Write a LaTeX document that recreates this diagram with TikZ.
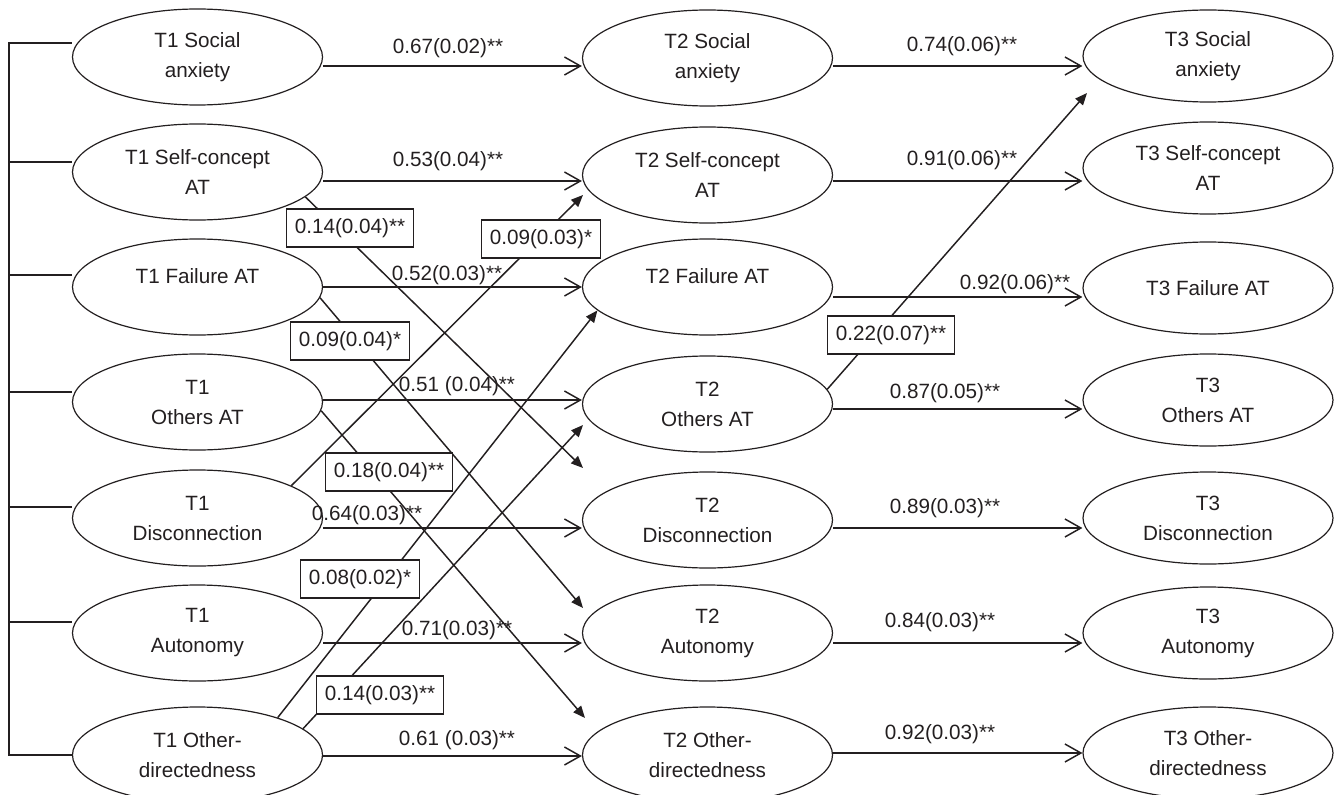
\documentclass[tikz,border=0pt]{standalone}
\usepackage{fontspec}
\setmainfont{Liberation Sans}
\usetikzlibrary{arrows.meta,calc,shapes.geometric}
\definecolor{ink}{RGB}{35,31,32}
\begin{document}
\begin{tikzpicture}[x=0.75pt,y=-0.75pt,
  lat/.style={ellipse,draw=ink,line width=0.9pt,minimum width=187.5pt,minimum height=72pt,inner sep=0pt,align=center,font=\fontsize{15.5}{22.5}\selectfont,text=ink},
  lat3/.style={lat,minimum height=69pt},
  harr/.style={draw=ink,line width=1.1pt,-{Straight Barb[length=12pt,width=13.5pt]}},
  darr/.style={draw=ink,line width=1.1pt,-{Triangle[length=9pt,width=7.5pt]}},
  coef/.style={font=\fontsize{15.5}{18}\selectfont,text=ink,inner sep=0pt},
  cbox/.style={coef,draw=ink,line width=0.8pt,fill=white,inner xsep=6pt,minimum height=28.5pt},
  brk/.style={draw=ink,line width=1.1pt}
]
\useasboundingbox (0,0) rectangle (1337,795);

% T1 column
\node[lat] (t1a) at (197.5,57)  {T1 Social\\anxiety};
\node[lat] (t1b) at (197.5,172) {T1 Self-concept\\AT};
\node[lat] (t1c) at (197.5,287) {T1 Failure AT\\[-6.5pt]\mbox{}};
\node[lat] (t1d) at (197.5,402) {T1\\Others AT};
\node[lat] (t1e) at (197.5,518) {T1\\Disconnection};
\node[lat] (t1f) at (197.5,633) {T1\\Autonomy};
\node[lat] (t1g) at (197.5,755) {T1 Other-\\directedness};

% T2 column
\node[lat] (t2a) at (707.5,58)  {T2 Social\\anxiety};
\node[lat] (t2b) at (707.5,175) {T2 Self-concept\\AT};
\node[lat] (t2c) at (707.5,287) {T2 Failure AT\\[-6.5pt]\mbox{}};
\node[lat] (t2d) at (707.5,404) {T2\\Others AT};
\node[lat] (t2e) at (707.5,520) {T2\\Disconnection};
\node[lat] (t2f) at (707.5,633) {T2\\Autonomy};
\node[lat] (t2g) at (707.5,755) {T2 Other-\\directedness};

% T3 column
\node[lat3] (t3a) at (1208,56)  {T3 Social\\anxiety};
\node[lat3] (t3b) at (1208,168) {T3 Self-concept\\AT};
\node[lat3] (t3c) at (1208,288) {T3 Failure AT};
\node[lat3] (t3d) at (1208,400) {T3\\Others AT};
\node[lat3] (t3e) at (1208,518) {T3\\Disconnection};
\node[lat3] (t3f) at (1208,633) {T3\\Autonomy};
\node[lat3] (t3g) at (1208,753) {T3 Other-\\directedness};

% left bracket
\draw[brk] (9,43) -- (9,755);
\draw[brk] ($(t1a.west)+(0,-14)$) -- +(-64,0);
\draw[brk] ($(t1b.west)+(0,-10)$) -- +(-64,0);
\draw[brk] ($(t1c.west)+(0,-12)$) -- +(-64,0);
\draw[brk] ($(t1d.west)+(0,-10)$) -- +(-64,0);
\draw[brk] ($(t1e.west)+(0,-11)$) -- +(-64,0);
\draw[brk] ($(t1f.west)+(0,-11)$) -- +(-64,0);
\draw[brk] ($(t1g.west)+(0,0)$) -- +(-64,0);

% T1 -> T2 stability paths
\draw[harr] ($(t1a.east)+(0,9)$) coordinate (h1) -- (t2a.west |- h1);
\draw[harr] ($(t1b.east)+(0,9)$) coordinate (h2) -- (t2b.west |- h2);
\draw[harr] ($(t1c.east)+(0,0)$) coordinate (h3) -- (t2c.west |- h3);
\draw[harr] ($(t1d.east)+(0,-2)$) coordinate (h4) -- (t2d.west |- h4);
\draw[harr] ($(t1e.east)+(0,10)$) coordinate (h5) -- (t2e.west |- h5);
\draw[harr] ($(t1f.east)+(0,10)$) coordinate (h6) -- (t2f.west |- h6);
\draw[harr] ($(t1g.east)+(0,1)$) coordinate (h7) -- (t2g.west |- h7);

% T2 -> T3 stability paths
\draw[harr] ($(t2a.east)+(0,8)$) coordinate (k1) -- (t3a.west |- k1);
\draw[harr] ($(t2b.east)+(0,6)$) coordinate (k2) -- (t3b.west |- k2);
\draw[harr] ($(t2c.east)+(0,10)$) coordinate (k3) -- (t3c.west |- k3);
\draw[harr] ($(t2d.east)+(0,5)$) coordinate (k4) -- (t3d.west |- k4);
\draw[harr] ($(t2e.east)+(0,8)$) coordinate (k5) -- (t3e.west |- k5);
\draw[harr] ($(t2f.east)+(0,10)$) coordinate (k6) -- (t3f.west |- k6);
\draw[harr] ($(t2g.east)+(0,-2)$) coordinate (k7) -- (t3g.west |- k7);

% cross-lagged paths
\coordinate (e1) at (583,468);
\coordinate (e2) at (583,608);
\coordinate (e3) at (585,718);
\coordinate (e4) at (583,195);
\coordinate (e6) at (583,425);
\coordinate (e7) at (1087,93);
\draw[darr] (t1b.-13) -- (e1);
\draw[darr] (t1c.-5) -- (e2);
\draw[darr] (t1d.-4) -- (e3);
\draw[darr] (t1e.19) -- (e4);
\draw[darr] (t1g.25) -- (t2c.192);
\draw[darr] (t1g.14) -- (e6);
\draw[darr] (t2d.7) -- (e7);

% boxed coefficients
\node[cbox] (b1) at (350,228) {0.14(0.04)**};
\node[cbox] (b2) at (350,341) {0.09(0.04)*};
\node[cbox] (b3) at (389,472) {0.18(0.04)**};
\node[cbox] (b4) at (541,239) {0.09(0.03)*};
\node[cbox] (b5) at (360,579) {0.08(0.02)*};
\node[cbox] (b6) at (380,695) {0.14(0.03)**};
\node[cbox] (b7) at (891,335) {0.22(0.07)**};

% plain coefficients
\node[coef] (l1) at (448,48)  {0.67(0.02)**};
\node[coef] (l2) at (448,161) {0.53(0.04)**};
\node[coef] (l3) at (447,275) {0.52(0.03)**};
\node[coef] (l4) at (457,386) {0.51 (0.04)**};
\node[coef] (l5) at (367,515) {0.64(0.03)**};
\node[coef] (l6) at (457,630) {0.71(0.03)**};
\node[coef] (l7) at (457,740) {0.61 (0.03)**};
\node[coef] (m1) at (962,46)  {0.74(0.06)**};
\node[coef] (m2) at (962,160) {0.91(0.06)**};
\node[coef] (m3) at (1015,284) {0.92(0.06)**};
\node[coef] (m4) at (945,393) {0.87(0.05)**};
\node[coef] (m5) at (945,508) {0.89(0.03)**};
\node[coef] (m6) at (940,622) {0.84(0.03)**};
\node[coef] (m7) at (940,734) {0.92(0.03)**};
\end{tikzpicture}
\end{document}
